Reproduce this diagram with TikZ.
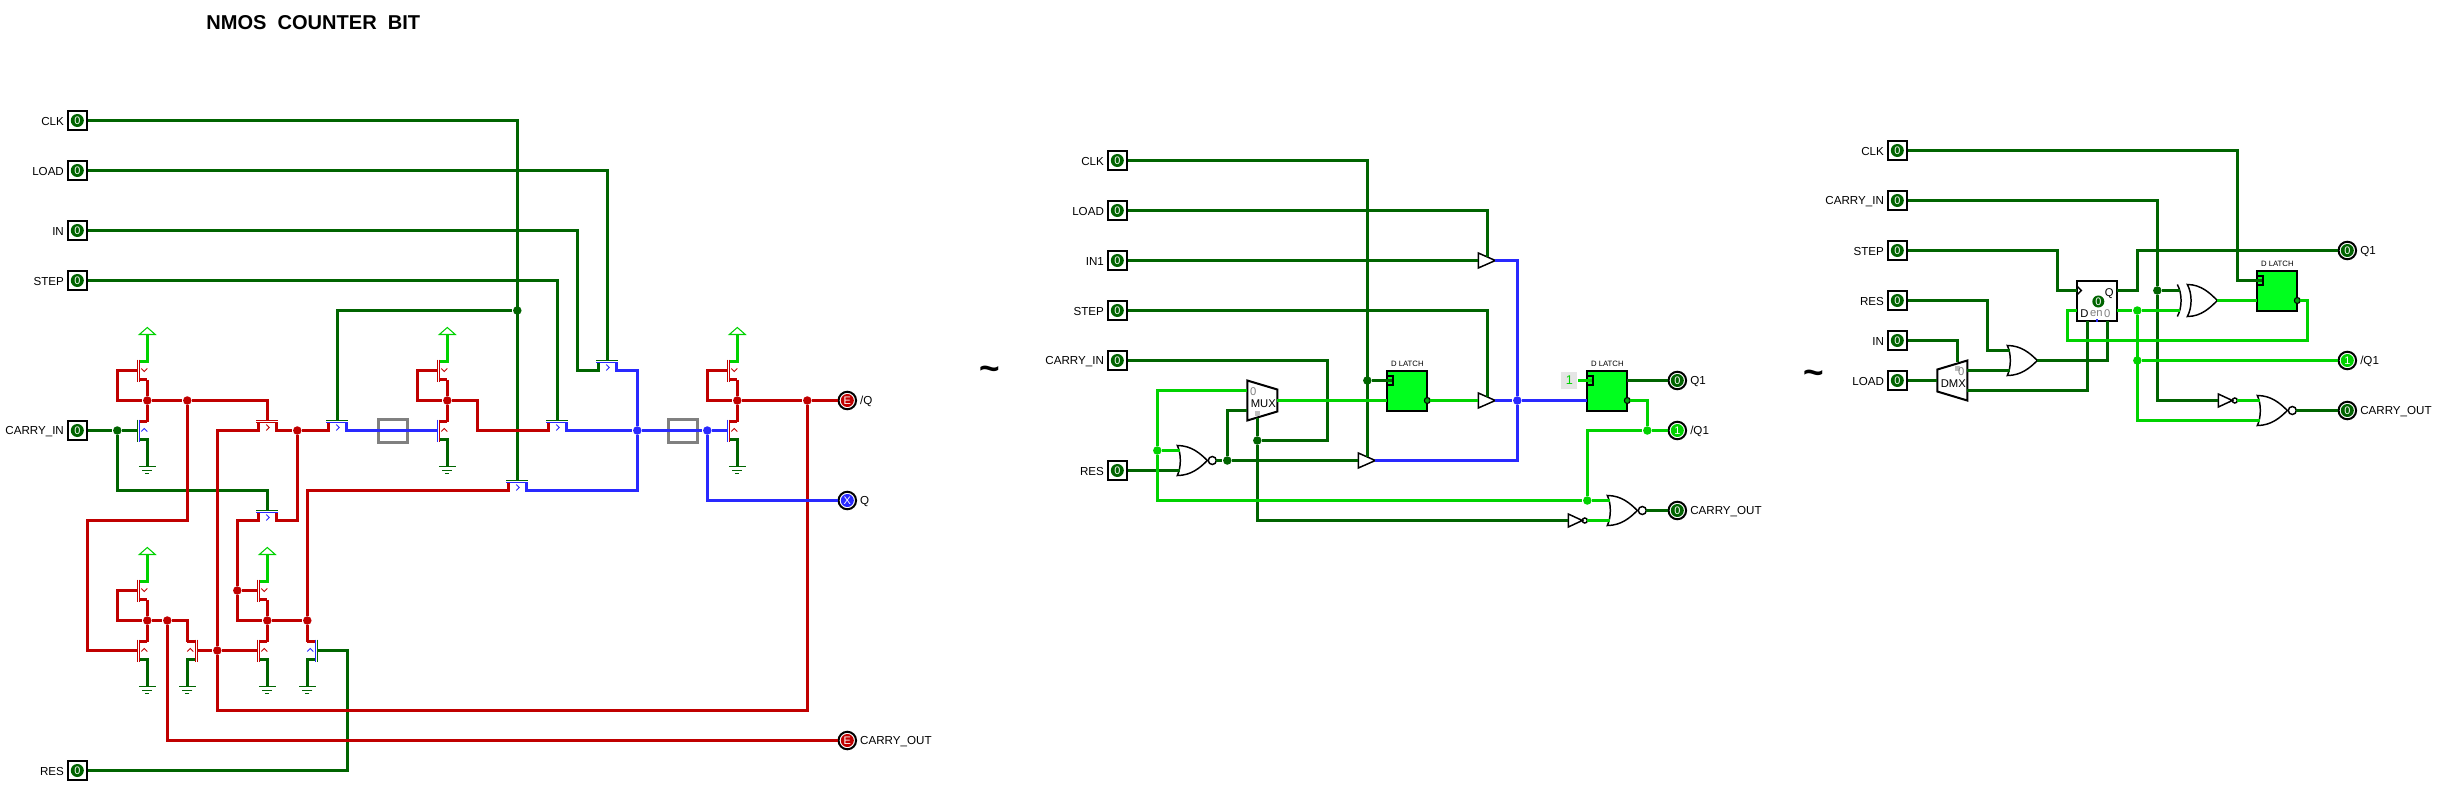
\documentclass[tikz,border=0pt]{standalone}
\usepackage{fontspec}
\setmainfont{Liberation Sans}
\usetikzlibrary{positioning}
\definecolor{wiredark}{RGB}{0,100,0}
\definecolor{wirebright}{RGB}{0,210,0}
\definecolor{wirered}{RGB}{192,0,0}
\definecolor{wireblue}{RGB}{41,41,255}
\definecolor{latchgreen}{RGB}{0,255,30}
\definecolor{resgray}{RGB}{128,128,128}
\tikzset{
    darkwire/.style={line width=.72pt, draw=wiredark},
    brightwire/.style={line width=.72pt, draw=wirebright},
    redwire/.style={line width=.72pt, draw=wirered},
    bluewire/.style={line width=.72pt, draw=wireblue},
    outline/.style={line width=.42pt, draw=black},
    dot/.style={circle, fill=#1, inner sep=0pt, minimum size=.085cm},
    pinlabel/.style={font=\fontsize{3.3}{4}\selectfont, inner sep=0pt, yshift=-.3pt},
    inpin/.style={rectangle, draw=black, line width=.57pt, fill=white, text=white, inner sep=0pt,
        minimum size=.185cm, font=\fontsize{3.1}{4}\selectfont,
        path picture={\fill[wiredark] (path picture bounding box.center) circle (1.85pt);},
        label={[pinlabel, label distance=.7pt]left:#1}},
    outpin/.style 2 args={circle, draw=black, line width=.57pt, fill=white, text=white, inner sep=0pt,
        minimum size=.175cm, font=\fontsize{3.1}{4}\selectfont,
        path picture={\fill[#1] (path picture bounding box.center) circle (1.85pt);},
        label={[pinlabel, label distance=.7pt]right:#2}},
    resbox/.style={rectangle, draw=resgray, line width=.7pt, minimum width=.29cm, minimum height=.19cm},
    tiny/.style={font=\fontsize{2.2}{3}\selectfont, inner sep=0pt},
    small/.style={font=\fontsize{3.2}{4}\selectfont, inner sep=0pt},
    pics/pfet/.style={code={
        \draw[brightwire] (0,-36) |- (-8,-9);
        \draw[redwire] (0,9) -- (-8,9);
        \draw[wirebright, line width=.3pt] (-8,-36) -- (0,-43) -- (8,-36) -- cycle;
        \draw[wirered, line width=.35pt] (-10,-11) -- (-10,11) (-8,-11) -- (-8,11);
        \draw[wirered, line width=.25pt] (-6,-2) -- (-3,1) -- (0,-2);
        \coordinate (-g) at (-10,0);
        \coordinate (-b) at (0,9);
    }},
    pics/nfet/.style n args={2}{code={
        \draw[redwire] (0,-9) -- (-8,-9);
        \draw[darkwire] (-8,9) -| (0,36);
        \draw[wiredark, line width=.35pt] (-8.5,36) -- (8.5,36) (-5,40) -- (5,40) (-2,43) -- (2,43);
        \draw[#1, line width=.35pt] (-10,-11) -- (-10,11);
        \draw[#2, line width=.35pt] (-8,-11) -- (-8,11);
        \draw[#2, line width=.25pt] (-6,1) -- (-3,-2) -- (0,1);
        \coordinate (-g) at (-10,0);
        \coordinate (-t) at (0,-9);
    }},
    pics/passfet/.style n args={4}{code={
        \draw[#3, line width=.72pt] (-9,-8) |- (-9.5,0);
        \draw[#4, line width=.72pt] (9,-8) |- (9.5,0);
        \draw[#1, line width=.35pt] (-11,-10) -- (11,-10);
        \draw[#2, line width=.35pt] (-11,-8) -- (11,-8);
        \draw[#2, line width=.25pt] (-1,-6) -- (2,-3) -- (-1,0);
        \coordinate (-g) at (0,-10);
        \coordinate (-l) at (-9,0);
        \coordinate (-r) at (9,0);
    }},
    pics/norgate/.style={code={
        \draw[outline] (35,0) circle (4);
        \draw[outline] (0,-15) .. controls (4,-7) and (4,7) .. (0,15)
            .. controls (14,15) and (23,7) .. (30,0) .. controls (23,-7) and (14,-15) .. (0,-15) -- cycle;
        \coordinate (-a) at (3,-10);
        \coordinate (-b) at (3,10);
        \coordinate (-out) at (39,0);
    }},
    pics/orgate/.style={code={
        \draw[outline] (0,-15) .. controls (4,-7) and (4,7) .. (0,15)
            .. controls (14,15) and (23,7) .. (30,0) .. controls (23,-7) and (14,-15) .. (0,-15) -- cycle;
        \coordinate (-a) at (3,-10);
        \coordinate (-b) at (3,10);
        \coordinate (-out) at (30,0);
    }},
    pics/xorgate/.style={code={
        \draw[outline] (0,-16) .. controls (5,-7) and (5,7) .. (0,16)
            .. controls (14,16) and (23,7) .. (30,0) .. controls (23,-7) and (14,-16) .. (0,-16) -- cycle;
        \draw[outline] (-10,-16) .. controls (-5,-7) and (-5,7) .. (-10,16);
        \coordinate (-a) at (-7,-10);
        \coordinate (-b) at (-7,10);
        \coordinate (-out) at (30,0);
    }},
    pics/bufgate/.style={code={
        \draw[outline, fill=white] (0,-7.5) -- (17,0) -- (0,7.5) -- cycle;
        \coordinate (-in) at (0,0);
        \coordinate (-out) at (17,0);
        \coordinate (-c) at (9,-4);
    }},
    pics/notgate/.style={code={
        \draw[outline, fill=white] (0,-6.5) -- (14,0) -- (0,6.5) -- cycle;
        \draw[outline] (16.5,0) circle (2.5);
        \coordinate (-in) at (0,0);
        \coordinate (-out) at (19,0);
    }},
    pics/dlatch/.style={code={
        \draw[wiredark, line width=.72pt] (40,10) -- (37,10);
        \draw[outline, line width=.57pt, fill=latchgreen] (0,0) rectangle (40,40);
        \draw[outline, line width=.57pt] (0,5) -- (6,5) -- (6,14) -- (0,14);
        \draw[outline, line width=.3pt, fill=wiredark!60!latchgreen] (40,30) circle (3);
        \node[tiny] (-name) at (20,-7) {D LATCH};
        \coordinate (-c) at (5,10);
        \coordinate (-d) at (0,30);
        \coordinate (-q) at (40,10);
        \coordinate (-nq) at (43,30);
    }},
    pics/muxgate/.style={code={
        \draw[outline, line width=.57pt, fill=white] (0,-20) -- (30,-11) -- (30,11) -- (0,20) -- cycle;
        \fill[gray!50] (8,10) rectangle (13,15);
        \node[small, text=gray] (-zero) at (6,-9) {0};
        \node[small] (-name) at (16,3) {MUX};
        \coordinate (-a) at (0,-10);
        \coordinate (-b) at (0,10);
        \coordinate (-out) at (30,0);
        \coordinate (-sel) at (10,17);
    }},
    pics/dmxgate/.style={code={
        \draw[outline, line width=.57pt, fill=white] (0,-11) -- (30,-20) -- (30,20) -- (0,11) -- cycle;
        \fill[gray!50] (18,-15) rectangle (23,-10);
        \node[small, text=gray] (-zero) at (24,-9) {0};
        \node[small] (-name) at (16,3) {DMX};
        \coordinate (-in) at (0,0);
        \coordinate (-o0) at (30,-10);
        \coordinate (-o1) at (30,10);
        \coordinate (-top) at (20,-19);
    }},
    pics/counter/.style={code={
        \draw[outline, line width=.57pt, fill=white] (0,0) rectangle (40,40);
        \draw[outline] (0,6) -- (4,10) -- (0,14);
        \draw[wireblue, line width=.72pt] (19,40) -- (21,40);
        \node[small] (-qtxt) at (32,13) {Q};
        \node[circle, fill=wiredark, text=white, inner sep=0pt, minimum size=.12cm, font=\fontsize{3.1}{4}\selectfont] (-val) at (21,21) {0};
        \node[small] (-dtxt) at (7,33) {D};
        \node[small, text=gray] (-en) at (19,33) {en};
        \node[small, text=gray] (-zero) at (30,33) {0};
        \coordinate (-clk) at (0,10);
        \coordinate (-d) at (0,30);
        \coordinate (-q) at (40,10);
        \coordinate (-nq) at (40,30);
        \coordinate (-one) at (10,40);
        \coordinate (-two) at (30,40);
    }}
}
\begin{document}
\begin{tikzpicture}[x=0.01cm, y=-0.01cm]
    \useasboundingbox (-0.3,-0.5) rectangle (2436.7,784.5);
    \node[font=\fontsize{5.7}{6}\selectfont\bfseries, inner sep=0pt] (title) at (313,22) {NMOS\ \ COUNTER\ \ BIT};
    \node[font=\fontsize{10}{10}\selectfont\bfseries, inner sep=0pt] (tildeA) at (989,373) {\char`\~};
    \node[font=\fontsize{10}{10}\selectfont\bfseries, inner sep=0pt] (tildeB) at (1813,377) {\char`\~};

    % transistor level
    \node[inpin=CLK] (clkA) at (77,120) {0};
    \node[inpin=LOAD] (loadA) at (77,170) {0};
    \node[inpin=IN] (inA) at (77,230) {0};
    \node[inpin=STEP] (stepA) at (77,280) {0};
    \node[inpin=CARRY\_IN] (cinA) at (77,430) {0};
    \node[inpin=RES] (resA) at (77,770) {0};
    \node[outpin={wirered}{/Q}] (nqA) at (847,400) {E};
    \node[outpin={wireblue}{Q}] (qA) at (847,500) {X};
    \node[outpin={wirered}{CARRY\_OUT}] (coutA) at (847,740) {E};
    \node[resbox] (invA) at (392.5,430.5) {};
    \node[resbox] (invB) at (682.5,430.5) {};

    \pic (p1) at (147,370) {pfet};
    \pic (p2) at (447,370) {pfet};
    \pic (p3) at (737,370) {pfet};
    \pic (p4) at (147,590) {pfet};
    \pic (p6) at (267,590) {pfet};
    \pic (n1) at (147,430) {nfet={wiredark}{wireblue}};
    \pic (n2) at (447,430) {nfet={wireblue}{wirered}};
    \pic (n3) at (737,430) {nfet={wireblue}{wirered}};
    \pic (n4) at (147,650) {nfet={wirered}{wirered}};
    \pic (n6) at (267,650) {nfet={wirered}{wirered}};
    \pic (n5) [xscale=-1] at (187,650) {nfet={wirered}{wirered}};
    \pic (n7) [xscale=-1] at (307,650) {nfet={wiredark}{wireblue}};
    \pic (ta) at (267,430) {passfet={wirered}{wirered}{wirered}{wirered}};
    \pic (tb) at (337,430) {passfet={wiredark}{wireblue}{wirered}{wireblue}};
    \pic (tc) at (267,520) {passfet={wiredark}{wireblue}{wirered}{wirered}};
    \pic (td) at (557,430) {passfet={wiredark}{wireblue}{wirered}{wireblue}};
    \pic (te) at (607,370) {passfet={wiredark}{wireblue}{wiredark}{wireblue}};
    \pic (tf) at (517,490) {passfet={wiredark}{wireblue}{wirered}{wireblue}};

    \node[dot=wiredark] (jclk) at (517,310) {};
    \node[dot=wiredark] (jcin) at (117,430) {};
    \node[dot=wirered] (j147) at (147,400) {};
    \node[dot=wirered] (j187) at (187,400) {};
    \node[dot=wirered] (j297) at (297,430) {};
    \node[dot=wirered] (j447) at (447,400) {};
    \node[dot=wirered] (j737) at (737,400) {};
    \node[dot=wirered] (j807) at (807,400) {};
    \node[dot=wirered] (j147b) at (147,620) {};
    \node[dot=wirered] (j167) at (167,620) {};
    \node[dot=wirered] (j217) at (217,650) {};
    \node[dot=wirered] (j237) at (237,590) {};
    \node[dot=wirered] (j267) at (267,620) {};
    \node[dot=wirered] (j307) at (307,620) {};
    \node[dot=wireblue] (j637) at (637,430) {};
    \node[dot=wireblue] (j707) at (707,430) {};

    \draw[darkwire] (clkA) -| (tf-g);
    \draw[darkwire] (jclk) -| (tb-g);
    \draw[darkwire] (loadA) -| (te-g);
    \draw[darkwire] (inA) -| (577,370) -- (te-l);
    \draw[darkwire] (stepA) -| (td-g);
    \draw[darkwire] (cinA) -- (jcin) -- (n1-g);
    \draw[darkwire] (jcin) |- (267,490) -- (tc-g);
    \draw[darkwire] (resA) -| (347,650) -- (n7-g);

    \draw[redwire] (p1-g) -| (117,400) -- (j147) -- (j187) -| (ta-g);
    \draw[redwire] (p1-b) -- (j147) -- (n1-t);
    \draw[redwire] (ta-l) -| (j217);
    \draw[redwire] (j217) -- (217,710) -| (j807);
    \draw[redwire] (ta-r) -- (j297) -- (tb-l);
    \draw[redwire] (j297) |- (tc-r);
    \draw[redwire] (tc-l) -| (j237);
    \draw[redwire] (j237) |- (j267);
    \draw[redwire] (j237) -- (p6-g);
    \draw[redwire] (p6-b) -- (j267) -- (n6-t);
    \draw[redwire] (j267) -- (j307) -- (n7-t);
    \draw[redwire] (j307) |- (tf-l);
    \draw[redwire] (j187) |- (87,520) |- (n4-g);
    \draw[redwire] (p4-g) -| (117,620) -- (j147b) -- (j167) -| (n5-t);
    \draw[redwire] (p4-b) -- (j147b) -- (n4-t);
    \draw[redwire] (j167) |- (coutA);
    \draw[redwire] (n5-g) -- (j217) -- (n6-g);
    \draw[redwire] (p2-g) -| (417,400) -- (j447) -| (477,430) -- (td-l);
    \draw[redwire] (p2-b) -- (j447) -- (n2-t);
    \draw[redwire] (p3-g) -| (707,400) -- (j737) -- (j807) -- (nqA);
    \draw[redwire] (p3-b) -- (j737) -- (n3-t);

    \draw[bluewire] (tb-r) -- (n2-g);
    \draw[bluewire] (td-r) -- (j637) -- (j707) -- (n3-g);
    \draw[bluewire] (te-r) -| (j637);
    \draw[bluewire] (j637) |- (tf-r);
    \draw[bluewire] (j707) |- (qA);

    % gate level with latches
    \node[inpin=CLK] (clkB) at (1117,160) {0};
    \node[inpin=LOAD] (loadB) at (1117,210) {0};
    \node[inpin=IN1] (inB) at (1117,260) {0};
    \node[inpin=STEP] (stepB) at (1117,310) {0};
    \node[inpin=CARRY\_IN] (cinB) at (1117,360) {0};
    \node[inpin=RES] (resB) at (1117,470) {0};
    \node[outpin={wiredark}{Q1}] (qB) at (1677,380) {0};
    \node[outpin={wirebright}{/Q1}] (nqB) at (1677,430) {1};
    \node[outpin={wiredark}{CARRY\_OUT}] (coutB) at (1677,510) {0};
    \node[fill=gray!20, text=wirebright, minimum width=.16cm, minimum height=.16cm, inner sep=0pt,
        font=\fontsize{3.6}{4}\selectfont] (oneB) at (1569,380) {1};

    \pic (la) at (1387,370) {dlatch};
    \pic (lb) at (1587,370) {dlatch};
    \pic (mx) at (1247,400) {muxgate};
    \pic (nr) at (1177,460) {norgate};
    \pic (ns) at (1607,510) {norgate};
    \pic (iv) at (1568,520) {notgate};
    \pic (ba) at (1478,260) {bufgate};
    \pic (bb) at (1478,400) {bufgate};
    \pic (bc) at (1358,460) {bufgate};

    \node[dot=wiredark] (jla) at (1367,380) {};
    \node[dot=wiredark] (jnr) at (1227,460) {};
    \node[dot=wiredark] (jcb) at (1257,440) {};
    \node[dot=wireblue] (jbl) at (1517,400) {};
    \node[dot=wirebright] (jnq) at (1647,430) {};
    \node[dot=wirebright] (jns) at (1587,500) {};
    \node[dot=wirebright] (jfb) at (1157,450) {};

    \draw[darkwire] (clkB) -| (bc-c);
    \draw[darkwire] (jla) -- (la-c);
    \draw[darkwire] (loadB) -| (ba-c);
    \draw[darkwire] (inB) -- (ba-in);
    \draw[darkwire] (stepB) -| (bb-c);
    \draw[darkwire] (cinB) -| (1327,440) -- (jcb);
    \draw[darkwire] (mx-sel) -- (jcb) |- (iv-in);
    \draw[darkwire] (nr-out) -- (jnr) -- (bc-in);
    \draw[darkwire] (jnr) |- (mx-b);
    \draw[darkwire] (resB) -- (nr-b);
    \draw[darkwire] (lb-q) -- (qB);
    \draw[darkwire] (ns-out) -- (coutB);

    \draw[brightwire] (mx-out) -- (la-d);
    \draw[brightwire] (la-nq) -- (bb-in);
    \draw[brightwire] (mx-a) -| (jfb);
    \draw[brightwire] (jfb) |- (jns);
    \draw[brightwire] (jfb) -- (nr-a);
    \draw[brightwire] (jns) -- (ns-a);
    \draw[brightwire] (lb-nq) -| (jnq);
    \draw[brightwire] (jnq) -- (nqB);
    \draw[brightwire] (jnq) -| (jns);
    \draw[brightwire] (iv-out) -- (ns-b);
    \draw[brightwire] (oneB) -- (lb-c);

    \draw[bluewire] (ba-out) -| (jbl);
    \draw[bluewire] (bb-out) -- (jbl) -- (lb-d);
    \draw[bluewire] (jbl) |- (bc-out);

    % gate level with counter
    \node[inpin=CLK] (clkC) at (1897,150) {0};
    \node[inpin=CARRY\_IN] (cinC) at (1897,200) {0};
    \node[inpin=STEP] (stepC) at (1897,250) {0};
    \node[inpin=RES] (resC) at (1897,300) {0};
    \node[inpin=IN] (inC) at (1897,340) {0};
    \node[inpin=LOAD] (loadC) at (1897,380) {0};
    \node[outpin={wiredark}{Q1}] (qC) at (2347,250) {0};
    \node[outpin={wirebright}{/Q1}] (nqC) at (2347,360) {1};
    \node[outpin={wiredark}{CARRY\_OUT}] (coutC) at (2347,410) {0};

    \pic (lc) at (2257,270) {dlatch};
    \pic (cnt) at (2077,280) {counter};
    \pic (dx) at (1937,380) {dmxgate};
    \pic (og) at (2007,360) {orgate};
    \pic (xg) at (2187,300) {xorgate};
    \pic (nt) at (2257,410) {norgate};
    \pic (iw) at (2218,400) {notgate};

    \node[dot=wiredark] (jxa) at (2157,290) {};
    \node[dot=wirebright] (jxb) at (2137,310) {};
    \node[dot=wirebright] (jnc) at (2137,360) {};

    \draw[darkwire] (clkC) -| (2237,280) -- (lc-c);
    \draw[darkwire] (cinC) -| (jxa);
    \draw[darkwire] (jxa) -- (xg-a);
    \draw[darkwire] (jxa) |- (iw-in);
    \draw[darkwire] (stepC) -| (2057,290) -- (cnt-clk);
    \draw[darkwire] (cnt-q) -| (2137,250) -- (qC);
    \draw[darkwire] (resC) -| (1987,350) -- (og-a);
    \draw[darkwire] (inC) -| (dx-top);
    \draw[darkwire] (loadC) -- (dx-in);
    \draw[darkwire] (dx-o0) -- (og-b);
    \draw[darkwire] (dx-o1) -| (cnt-one);
    \draw[darkwire] (og-out) -| (cnt-two);
    \draw[darkwire] (nt-out) -- (coutC);

    \draw[brightwire] (cnt-nq) -- (jxb) -- (xg-b);
    \draw[brightwire] (jxb) |- (nt-b);
    \draw[brightwire] (jnc) -- (nqC);
    \draw[brightwire] (xg-out) -- (lc-d);
    \draw[brightwire] (lc-nq) -| (2307,340) -| (2067,310) -- (cnt-d);
    \draw[brightwire] (iw-out) -- (nt-a);
\end{tikzpicture}
\end{document}
